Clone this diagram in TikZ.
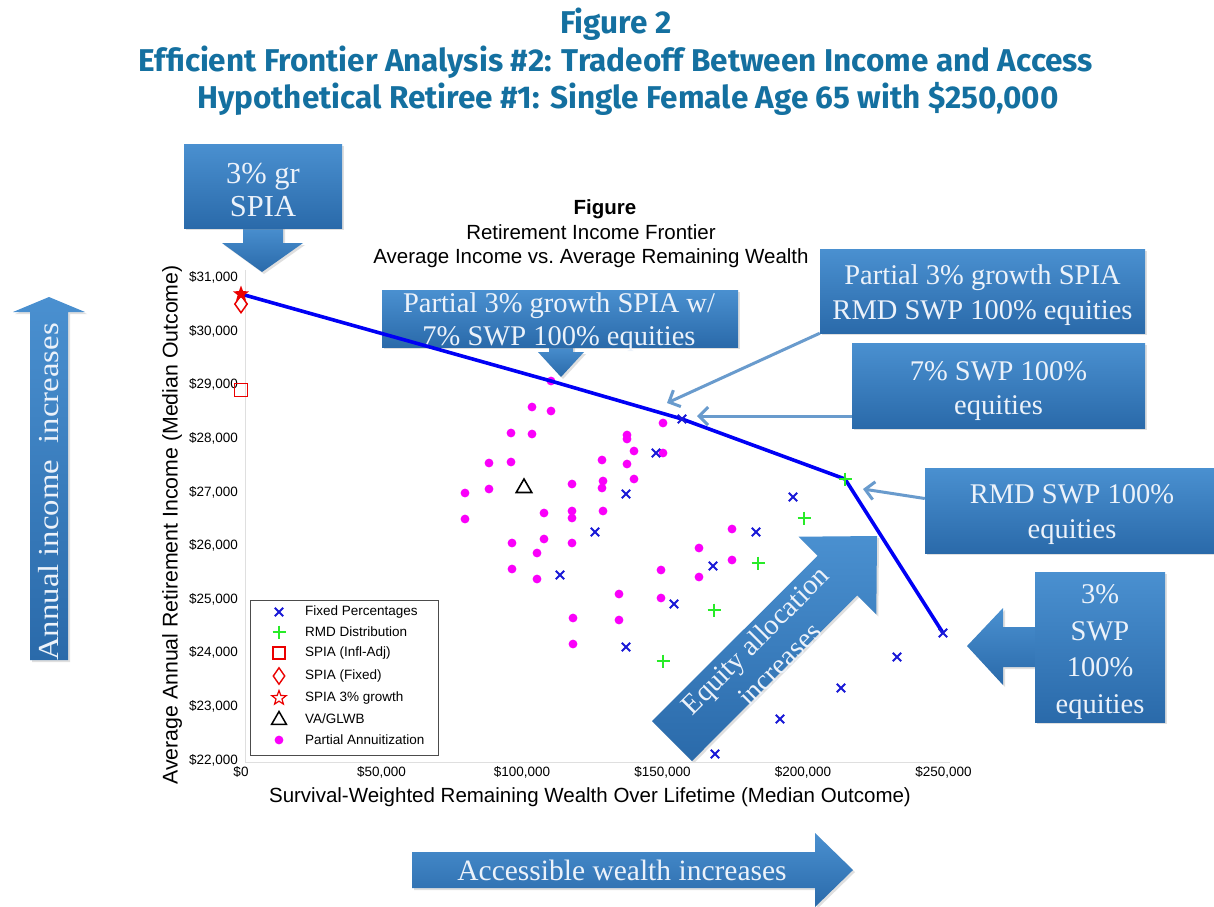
\documentclass[tikz,border=0pt]{standalone}
\usepackage{fontspec}
\setmainfont{Liberation Serif}
\newfontfamily\titlefont{Fira Sans}
\newfontfamily\chartfont{Liberation Sans}
\usetikzlibrary{shadows,arrows.meta,shapes.geometric}
\definecolor{ttl}{RGB}{20,112,160}
\definecolor{cbtop}{RGB}{74,144,208}
\definecolor{cbbot}{RGB}{42,106,170}
\definecolor{cbmid}{RGB}{60,126,192}
\definecolor{ctext}{RGB}{236,242,250}
\definecolor{fblue}{RGB}{0,0,245}
\definecolor{pblue}{RGB}{25,25,215}
\definecolor{pgreen}{RGB}{40,235,40}
\definecolor{pmag}{RGB}{250,0,250}
\definecolor{pred}{RGB}{235,0,0}
\definecolor{conn}{RGB}{105,155,205}
\begin{document}
\begin{tikzpicture}[x=1pt,y=-1pt,
  callout/.style={draw=none,top color=cbtop,bottom color=cbbot,inner sep=0pt,
    drop shadow={opacity=0.25,shadow xshift=2pt,shadow yshift=-2pt}},
  arrowfill/.style={top color=cbtop,bottom color=cbbot,
    drop shadow={opacity=0.25,shadow xshift=2pt,shadow yshift=-2pt}},
  ctxt/.style={text=ctext,align=center,inner sep=0pt,font=\fontsize{28.5}{34}\selectfont},
  ttlstyle/.style={font=\titlefont\bfseries\fontsize{31.5}{38}\selectfont,text=ttl,anchor=base,inner sep=0pt},
  chart/.style={font=\chartfont\fontsize{13.5}{16}\selectfont,inner sep=0pt},
  conn/.style={draw=conn,line width=3pt,-{Straight Barb[length=9pt,width=18pt]}},
  xmk/.pic={\draw[pblue,line width=1.9pt] (-4.2,-4.2)--(4.2,4.2) (-4.2,4.2)--(4.2,-4.2);},
  pmk/.pic={\draw[pgreen,line width=1.7pt] (-6.5,0)--(6.5,0) (0,-6.5)--(0,6.5);},
  dmk/.pic={\fill[pmag] (0,0) circle[radius=4.4pt];},
]
\useasboundingbox (0,0) rectangle (1214,906);
\fill[white] (0,0) rectangle (1214,906);

% ---------- title ----------
\node[ttlstyle] (title1) at (616,33) {Figure 2};
\node[ttlstyle] (title2) at (616,71) {Efficient Frontier Analysis \#2: Tradeoff Between Income and Access};
\node[ttlstyle] (title3) at (628,108) {Hypothetical Retiree \#1: Single Female Age 65 with \$250,000};

% ---------- big arrows ----------
\path[arrowfill] (30,660) -- (30,312) -- (13,312) -- (49,297) -- (85,312) -- (68,312) -- (68,660) -- cycle;
\node[ctxt,rotate=90,font=\fontsize{29}{30}\selectfont] (aitxt) at (49,492) {\scalebox{1.13}[1]{Annual income \ increases}};

\path[arrowfill] (412,852) -- (815,852) -- (815,833) -- (853,870) -- (815,907) -- (815,888) -- (412,888) -- cycle;
\node[ctxt,font=\fontsize{29.5}{34}\selectfont] (awtxt) at (622,870) {Accessible wealth increases};

\path[arrowfill] (652,721) -- (817.6,555.8) -- (798.5,536.7) -- (877,536) -- (876.3,614.5) -- (857.2,595.4) -- (692,761) -- cycle;
\node[ctxt,rotate=45] (eqtxt) at (767,652) {Equity allocation\\increases};

% ---------- callouts ----------
\path[arrowfill] (243,226) -- (283,226) -- (283,243) -- (303,243) -- (262,272) -- (222,243) -- (243,243) -- cycle;
\node[callout,minimum width=158,minimum height=84] (c1) at (263,186) {};
\node[ctxt,font=\fontsize{30.5}{33}\selectfont] (c1t) at (263,190) {3\% gr\\SPIA};

\path[arrowfill] (549,345) -- (573,345) -- (573,352) -- (584,352) -- (561,377) -- (538,352) -- (549,352) -- cycle;
\node[callout,minimum width=356,minimum height=57] (c2) at (560,318.5) {};
\node[ctxt,font=\fontsize{28.5}{33}\selectfont] (c2t) at (559,322) {Partial 3\% growth SPIA w/\\7\% SWP 100\% equities};

\node[callout,minimum width=325,minimum height=84] (c3) at (982.5,291) {};
\node[ctxt,font=\fontsize{28.5}{35}\selectfont] (c3t) at (982.5,295) {Partial 3\% growth SPIA\\RMD SWP 100\% equities};

\node[callout,minimum width=293,minimum height=85] (c4) at (998.5,385.5) {};
\node[ctxt,font=\fontsize{28.5}{34}\selectfont] (c4t) at (998.5,391) {7\% SWP 100\%\\equities};

\node[callout,minimum width=289,minimum height=85] (c5) at (1069.5,510.5) {};
\node[ctxt,font=\fontsize{28.5}{35}\selectfont] (c5t) at (1072,515) {RMD SWP 100\%\\equities};

\path[arrowfill] (1036,627) -- (1003,627) -- (1003,608) -- (967,646) -- (1003,685) -- (1003,667) -- (1036,667) -- cycle;
\node[callout,minimum width=130,minimum height=150] (c6) at (1100,647) {};
\node[ctxt,font=\fontsize{28.5}{36.5}\selectfont] (c6t) at (1100,652) {3\%\\SWP\\100\%\\equities};

% ---------- chart ----------
\node[font=\chartfont\fontsize{20.5}{24.5}\selectfont,align=center,inner sep=0pt] (ctitle) at (591,234)
  {\hspace*{28pt}\textbf{Figure}\\Retirement Income Frontier\\Average Income vs.\ Average Remaining Wealth};
\node[font=\chartfont\fontsize{21.3}{24}\selectfont,rotate=90,inner sep=0pt] (ylab) at (172,525)
  {Average Annual Retirement Income (Median Outcome)};
\node[font=\chartfont\fontsize{20.5}{24}\selectfont,inner sep=0pt] (xlab) at (590,797)
  {Survival-Weighted Remaining Wealth Over Lifetime (Median Outcome)};

\draw[gray!25,line width=0.8pt] (245,270) -- (245,762) -- (950,762);
\foreach \v/\yy in {22/760,23/706.4,24/652.8,25/599.2,26/545.6,27/492,28/438.4,29/384.8,30/331.2,31/277.6}
  \node[chart,anchor=east] at (238,\yy) {\$\v,000};
\foreach \lab/\xx in {{\$0}/241,{\$50,000}/381.5,{\$100,000}/522,{\$150,000}/662.5,{\$200,000}/803,{\$250,000}/943.5}
  \node[chart] at (\xx,772) {\lab};

% legend
\node[draw=gray!60!black,line width=0.7pt,minimum width=188,minimum height=155,anchor=north west,inner sep=0pt] (legend) at (250,600) {};
\pic at (279,612) {xmk};
\pic at (279,632) {pmk};
\node[draw=pred,line width=1.4pt,minimum size=12pt,inner sep=0pt] (lsq) at (279,653) {};
\node[diamond,draw=pred,line width=1.4pt,minimum width=12pt,minimum height=17pt,inner sep=0pt] (ldi) at (279,676) {};
\node[star,star points=5,star point ratio=2.4,draw=pred,line width=1.2pt,minimum size=15pt,inner sep=0pt] (lst) at (279,698) {};
\node[regular polygon,regular polygon sides=3,draw=black,line width=1.5pt,minimum size=17pt,inner sep=0pt] (ltr) at (279,720) {};
\pic at (279,740) {dmk};
\node[chart,anchor=west] (l1) at (305,612) {Fixed Percentages};
\node[chart,anchor=west] (l2) at (305,632) {RMD Distribution};
\node[chart,anchor=west] (l3) at (305,653) {SPIA (Infl-Adj)};
\node[chart,anchor=west] (l4) at (305,676) {SPIA (Fixed)};
\node[chart,anchor=west] (l5) at (305,698) {SPIA 3\% growth};
\node[chart,anchor=west] (l6) at (305,719) {VA/GLWB};
\node[chart,anchor=west] (l7) at (305,740) {Partial Annuitization};

% data
\foreach \p in {(551,381),(532,407),(551,411),(511,433),(532,434),(489,463),(511,462),(465,493),(489,489),(465,519),(544,513),(572,484),(572,511),(572,518),(602,460),(603,481),(602,488),(603,511),(627,435),(627,439),(634,451),(627,464),(634,479),(663,423),(663,453),(512,543),(544,539),(572,543),(537,553),(512,569),(537,579),(573,618),(573,644),(619,594),(619,620),(661,570),(661,598),(699,548),(699,577),(732,529),(732,560)}
  \pic at \p {dmk};
\foreach \p in {(656,453),(626,494),(793,497),(595,532),(756,532),(713,566),(560,575),(674,604),(626,647),(897,657),(841,688),(780,719),(715,754)}
  \pic at \p {xmk};
\foreach \p in {(804,518),(758,563),(714,610),(663,661)}
  \pic at \p {pmk};
\node[draw=pred,line width=1.5pt,minimum size=13pt,inner sep=0pt] (sq) at (241,390) {};
\node[diamond,draw=pred,line width=1.5pt,minimum width=13pt,minimum height=18pt,inner sep=0pt] (di) at (241,304) {};
\node[regular polygon,regular polygon sides=3,draw=black,line width=1.6pt,minimum size=18pt,inner sep=0pt] (tri) at (524,488) {};

% frontier
\coordinate (f1) at (241,294);
\coordinate (f2) at (551,381);
\coordinate (f3) at (682,419);
\coordinate (f4) at (845,479);
\coordinate (f5) at (943,633);
\draw[fblue,line width=3.6pt,line join=round] (f1) -- (f2) -- (f3) -- (f4) -- (f5);
\pic at (f3) {xmk};
\pic at (f5) {xmk};
\pic at (f4) {pmk};
\node[star,star points=5,star point ratio=2.4,fill=pred,minimum size=17pt,inner sep=0pt] (st) at (241,294) {};

% connectors
\coordinate (a3) at (667,403);
\coordinate (a4) at (697,416);
\coordinate (a5) at (863,489);
\draw[conn] (c3.south west) -- (a3);
\draw[conn] (c4.west |- a4) -- (a4);
\draw[conn] ([yshift=12pt]c5.west) -- (a5);
\end{tikzpicture}
\end{document}
